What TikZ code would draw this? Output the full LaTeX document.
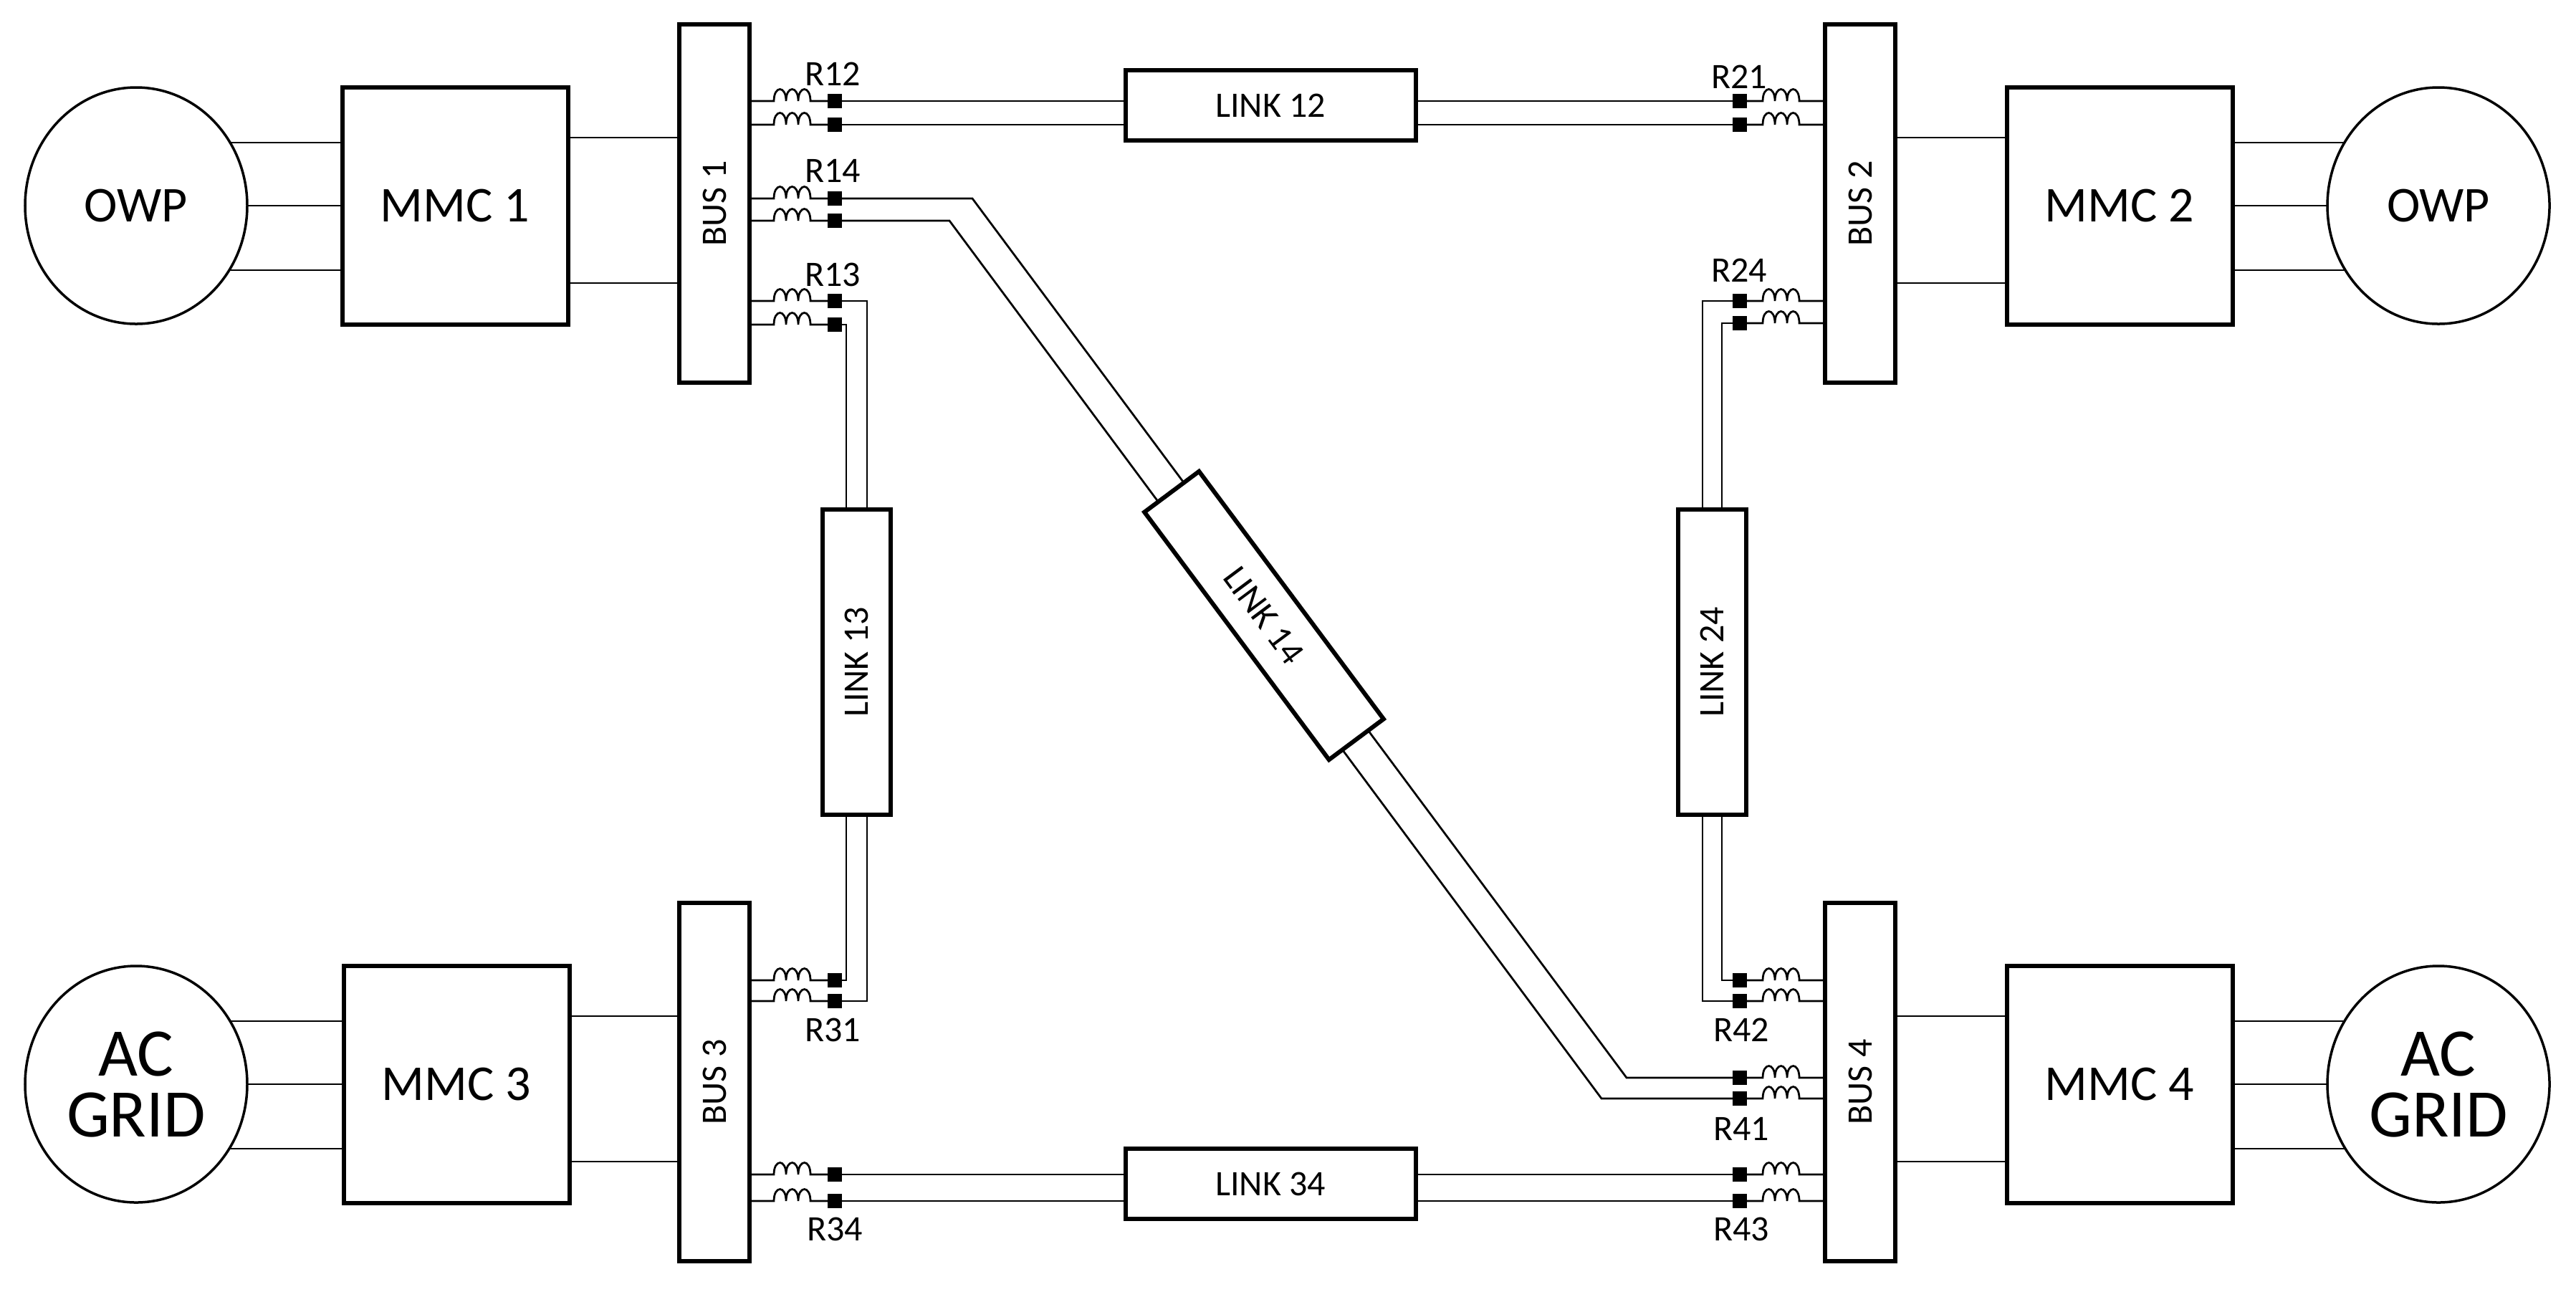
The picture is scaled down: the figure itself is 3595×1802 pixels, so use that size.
\documentclass[tikz,border=0pt]{standalone}
\usepackage{fontspec}
\setmainfont{Carlito}
\begin{document}
\begin{tikzpicture}[x=0.2pt,y=-0.2pt,
  thin line/.style={line width=0.55pt},
  box/.style={draw,line width=1.2pt,fill=white,inner sep=0pt},
  circ/.style={draw,ellipse,line width=0.7pt,minimum width=62pt,minimum height=66pt,inner sep=0pt,font=\fontsize{14}{16}\selectfont,align=center},
  mmc/.style={box,minimum width=63pt,minimum height=66.2pt,font=\fontsize{14}{16}\selectfont},
  bus/.style={box,minimum width=19.6pt,minimum height=100pt,font=\fontsize{10}{12}\selectfont},
  link/.style={box,minimum width=81pt,minimum height=19.6pt,font=\fontsize{10}{12}\selectfont},
  vlink/.style={box,minimum width=19pt,minimum height=85.2pt,font=\fontsize{10}{12}\selectfont},
  rl/.style={font=\fontsize{10}{12}\selectfont,inner sep=0pt}]
\useasboundingbox (0,0) rectangle (3595,1802);
\usetikzlibrary{shapes.geometric}
% left feeder: bus east edge -> inductor -> square
\newcommand\lfeed[2]{%
  \draw[thin line] (bus#1.east |- 0,#2) -- ++(31,0)
    .. controls +(0,-22) and +(0,-22) .. ++(17,0)
    .. controls +(0,-22) and +(0,-22) .. ++(17,0)
    .. controls +(0,-22) and +(0,-22) .. ++(17,0) -- (1165,#2);
  \fill (1155,#2-10) rectangle (1175,#2+10);}
\newcommand\rfeed[2]{%
  \draw[thin line] (bus#1.west |- 0,#2) -- ++(-33,0)
    .. controls +(0,-22) and +(0,-22) .. ++(-17,0)
    .. controls +(0,-22) and +(0,-22) .. ++(-17,0)
    .. controls +(0,-22) and +(0,-22) .. ++(-17,0) -- (2428,#2);
  \fill (2418,#2-10) rectangle (2438,#2+10);}

% sources
\node[circ] (owp1) at (190,287) {OWP};
\node[circ] (owp2) at (3403,287) {OWP};
\node[circ,font=\fontsize{19}{20}\selectfont] (ac3) at (190,1513) {AC\\[-3pt]GRID};
\node[circ,font=\fontsize{19}{20}\selectfont] (ac4) at (3403,1513) {AC\\[-3pt]GRID};
% converters
\node[mmc] (mmc1) at (635,287) {MMC 1};
\node[mmc] (mmc2) at (2958,287) {MMC 2};
\node[mmc] (mmc3) at (637,1513) {MMC 3};
\node[mmc] (mmc4) at (2958,1513) {MMC 4};
% buses
\node[bus] (bus1) at (997,284) {\rotatebox{90}{BUS 1}};
\node[bus] (bus2) at (2596,284) {\rotatebox{90}{BUS 2}};
\node[bus] (bus3) at (997,1510) {\rotatebox{90}{BUS 3}};
\node[bus] (bus4) at (2596,1510) {\rotatebox{90}{BUS 4}};

% three-phase connections
\foreach \s/\m/\yc/\sx in {owp1/mmc1/287/1, ac3/mmc3/1513/1}{
  \foreach \d in {-88,0,90}{
    \pgfmathsetmacro\xe{190+155*sqrt(1-(\d/165)^2)}
    \draw[thin line] (\xe,\yc+\d) -- (\m.west |- 0,\yc+\d);}}
\foreach \s/\m/\yc in {owp2/mmc2/287, ac4/mmc4/1513}{
  \foreach \d in {-88,0,90}{
    \pgfmathsetmacro\xe{3403-155*sqrt(1-(\d/165)^2)}
    \draw[thin line] (\xe,\yc+\d) -- (\m.east |- 0,\yc+\d);}}
% dc connections MMC - BUS
\foreach \m/\b/\o in {mmc1/bus1/0, mmc3/bus3/1226}{
  \draw[thin line] (\m.east |- 0,192+\o) -- (\b.west |- 0,192+\o);
  \draw[thin line] (\m.east |- 0,395+\o) -- (\b.west |- 0,395+\o);}
\foreach \m/\b/\o in {mmc2/bus2/0, mmc4/bus4/1226}{
  \draw[thin line] (\m.west |- 0,192+\o) -- (\b.east |- 0,192+\o);
  \draw[thin line] (\m.west |- 0,395+\o) -- (\b.east |- 0,395+\o);}

% feeders
\lfeed{1}{141}\lfeed{1}{174}
\lfeed{1}{277}\lfeed{1}{308}
\lfeed{1}{420}\lfeed{1}{453}
\lfeed{3}{1368}\lfeed{3}{1397}
\lfeed{3}{1639}\lfeed{3}{1676}
\rfeed{2}{141}\rfeed{2}{174}
\rfeed{2}{420}\rfeed{2}{451}
\rfeed{4}{1368}\rfeed{4}{1397}
\rfeed{4}{1504}\rfeed{4}{1533}
\rfeed{4}{1639}\rfeed{4}{1676}

% cables
\coordinate (a12) at (1165,141); \coordinate (b12) at (1165,174);
\coordinate (a21) at (2428,141); \coordinate (b21) at (2428,174);
\draw[thin line] (a12) -- (a21); \draw[thin line] (b12) -- (b21);
\coordinate (a14) at (1165,277); \coordinate (b14) at (1165,308);
\coordinate (a41) at (2428,1504); \coordinate (b41) at (2428,1533);
\draw[thin line] (a14) -- (1357,277) -- (2270,1504) -- (a41);
\draw[thin line] (b14) -- (1325,308) -- (2235,1533) -- (b41);
\coordinate (a13) at (1165,420); \coordinate (b13) at (1165,453);
\coordinate (a31) at (1165,1368); \coordinate (b31) at (1165,1397);
\draw[thin line] (a13) -- (1210,420) |- (b31);
\draw[thin line] (b13) -- (1181,453) |- (a31);
\coordinate (a24) at (2428,420); \coordinate (b24) at (2428,451);
\coordinate (a42) at (2428,1368); \coordinate (b42) at (2428,1397);
\draw[thin line] (a24) -- (2376,420) |- (b42);
\draw[thin line] (b24) -- (2403,451) |- (a42);
\coordinate (a34) at (1165,1639); \coordinate (b34) at (1165,1676);
\coordinate (a43) at (2428,1639); \coordinate (b43) at (2428,1676);
\draw[thin line] (a34) -- (a43); \draw[thin line] (b34) -- (b43);

% link boxes
\node[link] (l12) at (1773,147) {LINK 12};
\node[link] (l34) at (1773,1652) {LINK 34};
\node[vlink] (l13) at (1195,924) {\rotatebox{90}{LINK 13}};
\node[vlink] (l24) at (2389,924) {\rotatebox{90}{LINK 24}};
\node[box,minimum width=86.2pt,minimum height=19pt,rotate=-53.3,font=\fontsize{10}{12}\selectfont] (l14) at (1764,859) {LINK 14};

% labels
\node[rl] at (1162,103) {R12};
\node[rl] at (1162,238) {R14};
\node[rl] at (1162,383) {R13};
\node[rl] at (1162,1437) {R31};
\node[rl] at (1165,1715) {R34};
\node[rl] at (2427,107) {R21};
\node[rl] at (2427,377) {R24};
\node[rl] at (2430,1437) {R42};
\node[rl] at (2430,1575) {R41};
\node[rl] at (2430,1715) {R43};
\end{tikzpicture}
\end{document}
